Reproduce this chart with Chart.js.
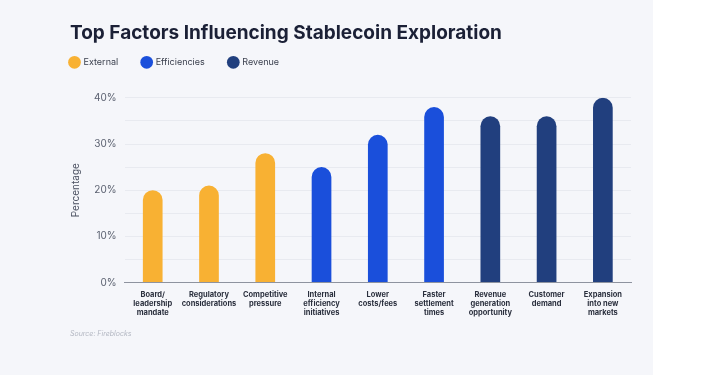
<!DOCTYPE html>
<html>
<head>
<meta charset="utf-8">
<script src="https://cdn.jsdelivr.net/npm/chart.js@4"></script>
<style>
  body { margin: 0; background: #ffffff; }
  #tarjeta { position: absolute; left: 0; top: 0; width: 653px; height: 375px; background: #f5f6fa; }
</style>
</head>
<body>
<div id="tarjeta"><canvas id="grafico" width="653" height="375"></canvas></div>
<script>
const categorias = [
  ["Board/", "leadership", "mandate"],
  ["Regulatory", "considerations"],
  ["Competitive", "pressure"],
  ["Internal", "efficiency", "initiatives"],
  ["Lower", "costs/fees"],
  ["Faster", "settlement", "times"],
  ["Revenue", "generation", "opportunity"],
  ["Customer", "demand"],
  ["Expansion", "into new", "markets"]
];
const valores = [20, 21, 28, 25, 32, 38, 36, 36, 40];
const grupos = ["External", "External", "External", "Efficiencies", "Efficiencies", "Efficiencies", "Revenue", "Revenue", "Revenue"];
const nombresGrupo = ["External", "Efficiencies", "Revenue"];
const marcasY = [0, 10, 20, 30, 40];

const colores = { External: "#f8b133", Efficiencies: "#1a4fdb", Revenue: "#213f7e" };

const datasets = nombresGrupo.map(function (g) {
  return {
    label: g,
    data: valores.map((v, i) => (grupos[i] === g ? v : null)),
    backgroundColor: colores[g],
    borderRadius: { topLeft: 10, topRight: 10, bottomLeft: 0, bottomRight: 0 },
    borderSkipped: false,
    barPercentage: 0.35,
    categoryPercentage: 1
  };
});

// espacio extra debajo de la leyenda y leyenda pegada a la izquierda
const ajusteLeyenda = {
  id: "ajusteLeyenda",
  beforeInit(chart) {
    const fitOriginal = chart.legend.fit;
    chart.legend.fit = function () {
      fitOriginal.bind(chart.legend)();
      this.height += 10;
    };
  },
  afterLayout(chart) {
    chart.legend.left -= 24;
    chart.legend.top -= 11;
  }
};

new Chart(document.getElementById("grafico"), {
  type: "bar",
  data: { labels: categorias, datasets: datasets },
  plugins: [ajusteLeyenda],
  options: {
    responsive: false,
    animation: false,
    layout: { padding: { left: 70, right: 22, top: 22, bottom: 37 } },
    plugins: {
      title: {
        display: true,
        text: "Top Factors Influencing Stablecoin Exploration",
        align: "start",
        color: "#1b2036",
        font: { family: "Inter", size: 19, weight: "bold" },
        padding: { top: 0, bottom: 0 }
      },
      subtitle: {
        display: true,
        position: "bottom",
        text: "Source: Fireblocks",
        align: "start",
        color: "#b3b7c2",
        font: { family: "Inter", size: 7, style: "italic" },
        padding: { top: 4, bottom: 0 }
      },
      legend: {
        display: true,
        align: "start",
        labels: {
          usePointStyle: true,
          pointStyle: "circle",
          boxWidth: 10,
          boxHeight: 10,
          padding: 24,
          color: "#3a3f4d",
          font: { family: "Inter", size: 9 }
        }
      },
      tooltip: { enabled: false }
    },
    scales: {
      x: {
        stacked: true,
        grid: { display: false, drawTicks: false },
        border: { display: true, color: "#8e939f", width: 1 },
        ticks: {
          color: "#2a2f3d",
          font: { family: "Inter", size: 7.5, weight: "bold", lineHeight: 1.2 },
          padding: 8,
          maxRotation: 0,
          autoSkip: false
        }
      },
      y: {
        stacked: true,
        min: 0,
        max: 40,
        grid: { color: "#e8eaf0", drawTicks: false },
        border: { display: false },
        ticks: {
          stepSize: 5,
          padding: 8,
          color: "#5b6170",
          font: { family: "Inter", size: 10 },
          callback: function (v) { return marcasY.includes(v) ? v + "%" : ""; }
        },
        title: {
          display: true,
          text: "Percentage",
          color: "#4a5060",
          font: { family: "Inter", size: 10 },
          padding: { top: 0, bottom: 4 }
        }
      }
    }
  }
});
</script>
</body>
</html>
